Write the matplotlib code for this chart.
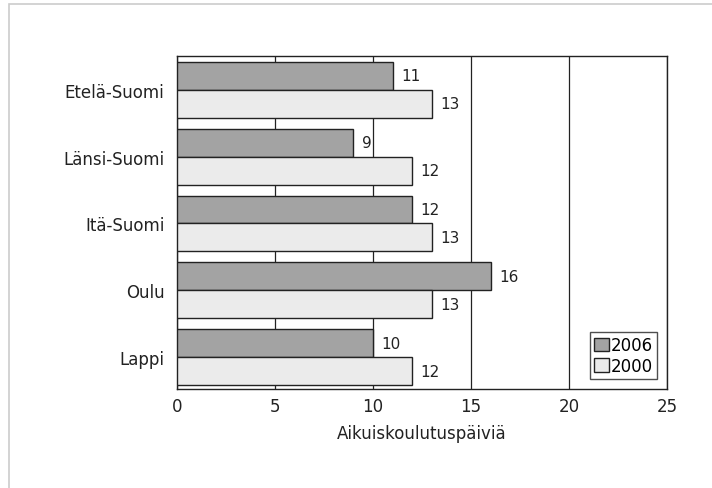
import matplotlib
matplotlib.use("Agg")
import matplotlib.pyplot as plt
import numpy as np
from matplotlib.patches import Rectangle

plt.rcParams['font.family'] = ['DejaVu Sans']

# Data
regions = ["Etelä-Suomi", "Länsi-Suomi", "Itä-Suomi", "Oulu", "Lappi"]
values_2006 = [11, 9, 12, 16, 10]
values_2000 = [13, 12, 13, 13, 12]
series_labels = ["2006", "2000"]
x_ticks = [0, 5, 10, 15, 20, 25]
x_label = "Aikuiskoulutuspäiviä"

fig = plt.figure(figsize=(7.12, 4.89), dpi=100)
ax = fig.add_axes([0.2486, 0.2025, 0.6882, 0.681])

# light frame around the whole figure
fig.patches.append(Rectangle((0.012, -0.01), 1.0, 1.0, transform=fig.transFigure,
                             fill=False, edgecolor="#cccccc", linewidth=1.2))

y = np.arange(len(regions))
h = 0.418
bars_06 = ax.barh(y - h / 2, values_2006, height=h, color="#a3a3a3",
                  edgecolor="#222222", linewidth=1.0, label=series_labels[0], zorder=3)
bars_00 = ax.barh(y + h / 2, values_2000, height=h, color="#ebebeb",
                  edgecolor="#222222", linewidth=1.0, label=series_labels[1], zorder=3)

for bars, vals in [(bars_06, values_2006), (bars_00, values_2000)]:
    for b, v in zip(bars, vals):
        ax.annotate(str(v), (b.get_width(), b.get_y() + b.get_height() / 2),
                    xytext=(6, 0), textcoords="offset points", va="center", ha="left",
                    fontsize=11, color="#222222")

ax.set_xlim(0, 25)
ax.set_ylim(len(regions) - 1 + h + 0.06, -h - 0.09)
ax.set_xticks(x_ticks)
ax.set_yticks(y)
ax.set_yticklabels(regions)
ax.tick_params(axis="y", length=0, labelsize=12, colors="#222222", pad=9)
ax.tick_params(axis="x", length=0, labelsize=12, colors="#222222", pad=6)
ax.set_xlabel(x_label, fontsize=12, color="#222222", labelpad=6)

ax.xaxis.grid(True, color="#222222", linewidth=0.9, zorder=0)
ax.set_axisbelow(True)
for s in ax.spines.values():
    s.set_color("#222222")
    s.set_linewidth(1.0)

leg = ax.legend(loc="lower right", frameon=True, fancybox=False, fontsize=12,
                handlelength=0.9, handleheight=0.9, handletextpad=0.1,
                borderpad=0.25, labelspacing=0.15, borderaxespad=0.6)
leg.get_frame().set_edgecolor("#222222")
leg.get_frame().set_linewidth(1.0)

fig.savefig("out.png", dpi=100)
